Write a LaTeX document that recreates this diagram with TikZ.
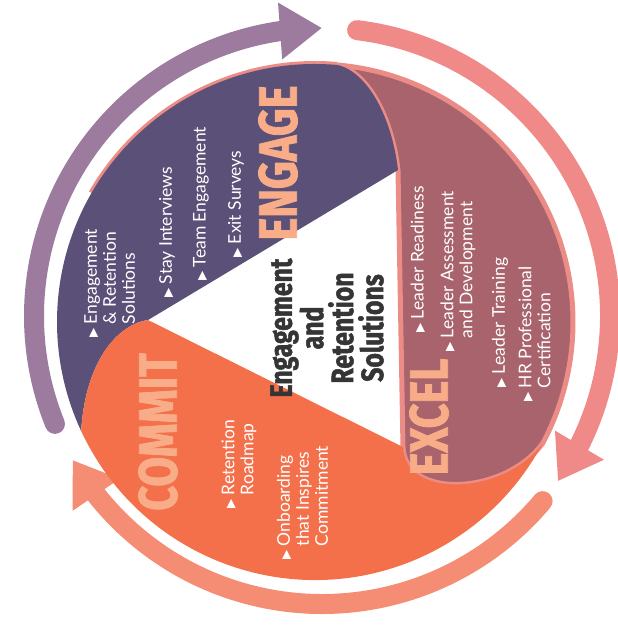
\documentclass[tikz,border=0pt]{standalone}
\usepackage{fontspec}
\setmainfont{Lato}
\newfontfamily\headfont[FakeStretch=0.8, BoldFeatures={FakeBold=1.5}]{Fira Sans}
\newfontfamily\symfont{DejaVu Sans}
\usetikzlibrary{calc,arrows.meta,bending}
\definecolor{engagec}{HTML}{5B5078}
\definecolor{excelc}{HTML}{A8636C}
\definecolor{commitc}{HTML}{F4704B}
\definecolor{ringa}{HTML}{9C7B9E}
\definecolor{ringb}{HTML}{F08A88}
\definecolor{ringc}{HTML}{F58C74}
\definecolor{headc}{HTML}{F8AD88}
\definecolor{centc}{HTML}{353535}
\definecolor{rimc}{HTML}{EC8C86}
\newcommand{\bul}{{\symfont\fontsize{12}{12}\selectfont ▶}}
\newcommand{\lines}[1]{\begin{tabular}[t]{@{}l@{}}#1\end{tabular}}
\tikzset{
	ring/.style={line width=20pt, line cap=round, -{Triangle[width=54pt,length=42pt]}},
	item/.style={rotate=90, anchor=west, inner sep=0pt, text=white, font=\fontsize{17.5}{19}\selectfont},
	head/.style={rotate=90, inner sep=0pt, text=headc, font=\headfont\bfseries\fontsize{54}{54}\selectfont},
}
\begin{document}
\begin{tikzpicture}[x=1pt, y=1pt]
	\useasboundingbox (0,0) rectangle (618,-641);
	\coordinate (O) at (322,-316);
	\coordinate (D) at (315,-322);
	\coordinate (A) at (398,-170);
	\coordinate (B) at (148,-320);
	\coordinate (C) at (403,-447);
	\coordinate (P1) at ($(D)+(85:258)$);
	\coordinate (P2) at ($(D)+(-28:258)$);
	\coordinate (Q) at ($(D)+(205:258)$);

	\draw[ring, ringa] ($(O)+(202:288)$) arc[start angle=202, end angle=90, radius=288];
	\draw[ring, ringb] ($(O)+(83:288)$) arc[start angle=83, end angle=-35, radius=288];
	\draw[ring, ringc] ($(O)+(-40:288)$) arc[start angle=-40, end angle=-150, radius=288];

	\filldraw[fill=excelc, draw=rimc, line width=5pt] (A) -- (C) .. controls (405,-500) and (505,-495) .. (P2) arc[start angle=-28, end angle=85, radius=258] .. controls (368,-72) and (392,-118) .. (A) -- cycle;
	\draw[rimc, line width=6pt] (P1) arc[start angle=85, end angle=150, radius=258];
	\fill[engagec] (B) -- (A) .. controls (392,-118) and (368,-72) .. (P1) arc[start angle=85, end angle=205, radius=258] .. controls (85,-365) and (115,-325) .. (B) -- cycle;
	\fill[commitc] (C) -- (B) .. controls (115,-325) and (85,-365) .. (Q) arc[start angle=205, end angle=332, radius=258] .. controls (505,-495) and (405,-500) .. (C) -- cycle;

	\node[head] (engage) at (278,-163) {ENGAGE};
	\node[head] (excel) at (429,-417) {EXCEL};
	\node[head] (commit) at (158,-432) {COMMIT};

	\node[item] (e1) at (112,-338) {\bul~\lines{Engagement\\ \& Retention\\ Solutions}};
	\node[item] (e2) at (167,-298) {\bul~Stay Interviews};
	\node[item] (e3) at (201,-281) {\bul~Team Engagement};
	\node[item] (e4) at (236,-258) {\bul~Exit Surveys};

	\node[item] (x1) at (418,-333) {\bul~Leader Readiness};
	\node[item] (x2) at (459,-352) {\bul~\lines{Leader Assessment\\ and Development}};
	\node[item] (x3) at (500,-388) {\bul~Leader Training};
	\node[item] (x4) at (537,-402) {\bul~\lines{HR Professional\\ Certification}};

	\node[item] (c1) at (240,-509) {\bul~\lines{Retention\\ Roadmap}};
	\node[item] (c2) at (305,-560) {\bul~\lines{Onboarding\\ that Inspires\\ Commitment}};

	\node[rotate=90, align=center, text=centc, font=\headfont\bfseries\fontsize{31}{30}\selectfont] (hub) at (327,-328) {Engagement\\and\\Retention\\Solutions};
\end{tikzpicture}
\end{document}
